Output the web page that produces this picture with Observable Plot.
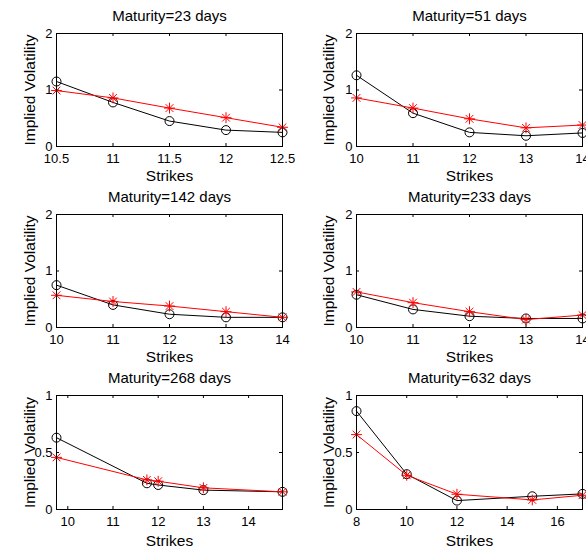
<!DOCTYPE html>
<html>
<head>
<meta charset="utf-8">
<script src="https://cdn.jsdelivr.net/npm/d3@7"></script>
<script src="https://cdn.jsdelivr.net/npm/@observablehq/plot@0.6"></script>
<style>
  html, body { margin: 0; padding: 0; background: #ffffff; }
  #chart { position: relative; width: 586px; height: 550px; overflow: hidden; background: #ffffff; }
  #chart svg { position: absolute; overflow: visible; }
</style>
</head>
<body>
<div id="chart"></div>
<script>
// ---- Data ----
const titles = ["Maturity=23 days", "Maturity=51 days", "Maturity=142 days",
                "Maturity=233 days", "Maturity=268 days", "Maturity=632 days"];
const xLabel = "Strikes";
const yLabel = "Implied Volatility";

const strikes23 = [10.5, 11, 11.5, 12, 12.5];
const market23  = [1.15, 0.78, 0.45, 0.29, 0.25];
const model23   = [0.99, 0.86, 0.68, 0.51, 0.34];

const strikes51 = [10, 11, 12, 13, 14];
const market51  = [1.26, 0.59, 0.25, 0.19, 0.24];
const model51   = [0.86, 0.68, 0.49, 0.33, 0.38];

const strikes142 = [10, 11, 12, 13, 14];
const market142  = [0.75, 0.40, 0.235, 0.18, 0.18];
const model142   = [0.57, 0.46, 0.38, 0.28, 0.18];

const strikes233 = [10, 11, 12, 13, 14];
const market233  = [0.58, 0.32, 0.20, 0.16, 0.16];
const model233   = [0.63, 0.44, 0.28, 0.14, 0.22];

const strikes268 = [9.75, 11.75, 12, 13, 14.75];
const market268  = [0.63, 0.23, 0.215, 0.17, 0.155];
const model268   = [0.457, 0.26, 0.248, 0.19, 0.155];

const strikes632 = [8, 10, 12, 15, 17];
const market632  = [0.863, 0.31, 0.078, 0.116, 0.137];
const model632   = [0.657, 0.30, 0.134, 0.084, 0.125];

const xTicks23  = [10.5, 11, 11.5, 12, 12.5];
const xTicks10to14 = [10, 11, 12, 13, 14];
const xTicks632 = [8, 10, 12, 14, 16];
const yTicksTop = [0, 1, 2];
const yTicksBottom = [0, 0.5, 1];

// ---- Layout ----
const FONT = "'Liberation Sans', Arial, Helvetica, sans-serif";
const cols = [
  {left: 0,   width: 293, mL: 56, mR: 11},
  {left: 293, width: 293, mL: 63, mR: 4}
];
const rows = [
  {top: 0,   height: 182, mT: 33, mB: 36},
  {top: 182, height: 182, mT: 32, mB: 37},
  {top: 364, height: 186, mT: 31, mB: 41}
];

const panels = [
  {strikes: strikes23,  market: market23,  model: model23,  xDomain: [10.5, 12.5], yDomain: [0, 2], xTicks: xTicks23,     yTicks: yTicksTop},
  {strikes: strikes51,  market: market51,  model: model51,  xDomain: [10, 14],     yDomain: [0, 2], xTicks: xTicks10to14, yTicks: yTicksTop},
  {strikes: strikes142, market: market142, model: model142, xDomain: [10, 14],     yDomain: [0, 2], xTicks: xTicks10to14, yTicks: yTicksTop},
  {strikes: strikes233, market: market233, model: model233, xDomain: [10, 14],     yDomain: [0, 2], xTicks: xTicks10to14, yTicks: yTicksTop},
  {strikes: strikes268, market: market268, model: model268, xDomain: [9.75, 14.75], yDomain: [0, 1], xTicks: xTicks10to14, yTicks: yTicksBottom},
  {strikes: strikes632, market: market632, model: model632, xDomain: [8, 17],      yDomain: [0, 1], xTicks: xTicks632,    yTicks: yTicksBottom}
];

const chart = document.getElementById("chart");

panels.forEach((p, i) => {
  const col = cols[i % 2];
  const row = rows[Math.floor(i / 2)];
  const plotW = col.width - col.mL - col.mR;
  const plotH = row.height - row.mT - row.mB;
  const marketData = p.strikes.map((s, k) => ({strike: s, iv: p.market[k]}));
  const modelData  = p.strikes.map((s, k) => ({strike: s, iv: p.model[k]}));
  const tickLen = 3;

  const svg = Plot.plot({
    width: col.width,
    height: row.height,
    marginLeft: col.mL,
    marginRight: col.mR,
    marginTop: row.mT,
    marginBottom: row.mB,
    style: {fontFamily: FONT, fontSize: "13px", color: "#000", background: "transparent", overflow: "visible"},
    x: {domain: p.xDomain, ticks: p.xTicks, tickSize: 0, tickPadding: 7, label: null, tickFormat: d => String(d)},
    y: {domain: p.yDomain, ticks: p.yTicks, tickSize: 0, tickPadding: 4, label: null, tickFormat: d => String(d)},
    marks: [
      // inward tick marks on all four sides
      Plot.tickX(p.xTicks, {x: d => d, insetTop: plotH - tickLen, stroke: "#000", strokeWidth: 1}),
      Plot.tickX(p.xTicks, {x: d => d, insetBottom: plotH - tickLen, stroke: "#000", strokeWidth: 1}),
      Plot.tickY(p.yTicks, {y: d => d, insetRight: plotW - tickLen, stroke: "#000", strokeWidth: 1}),
      Plot.tickY(p.yTicks, {y: d => d, insetLeft: plotW - tickLen, stroke: "#000", strokeWidth: 1}),
      // market (black circles)
      Plot.line(marketData, {x: "strike", y: "iv", stroke: "#000", strokeWidth: 1}),
      Plot.dot(marketData, {x: "strike", y: "iv", r: 4.5, stroke: "#000", fill: "none", strokeWidth: 1}),
      // model (red asterisks)
      Plot.line(modelData, {x: "strike", y: "iv", stroke: "#ff0000", strokeWidth: 1}),
      Plot.dot(modelData, {x: "strike", y: "iv", symbol: "plus", r: 3.6, stroke: "#ff0000", strokeWidth: 1}),
      Plot.dot(modelData, {x: "strike", y: "iv", symbol: "times", r: 3.6, stroke: "#ff0000", strokeWidth: 1}),
      Plot.frame({stroke: "#000", strokeWidth: 1}),
      // labels
      Plot.text([titles[i]], {text: d => d, frameAnchor: "top", textAnchor: "middle", dy: -17, lineAnchor: "middle", fontSize: 15, fill: "#000"}),
      Plot.text([xLabel], {text: d => d, frameAnchor: "bottom", textAnchor: "middle", dy: i >= 4 ? 32 : 30, lineAnchor: "middle", fontSize: 15.5, fill: "#000"}),
      Plot.text([yLabel], {text: d => d, frameAnchor: "left", textAnchor: "middle", dx: i % 2 === 0 ? -26 : -27, rotate: -90, lineAnchor: "middle", fontSize: 15.5, fill: "#000"})
    ]
  });
  svg.style.left = col.left + "px";
  svg.style.top = row.top + "px";
  chart.appendChild(svg);
});
</script>
</body>
</html>
